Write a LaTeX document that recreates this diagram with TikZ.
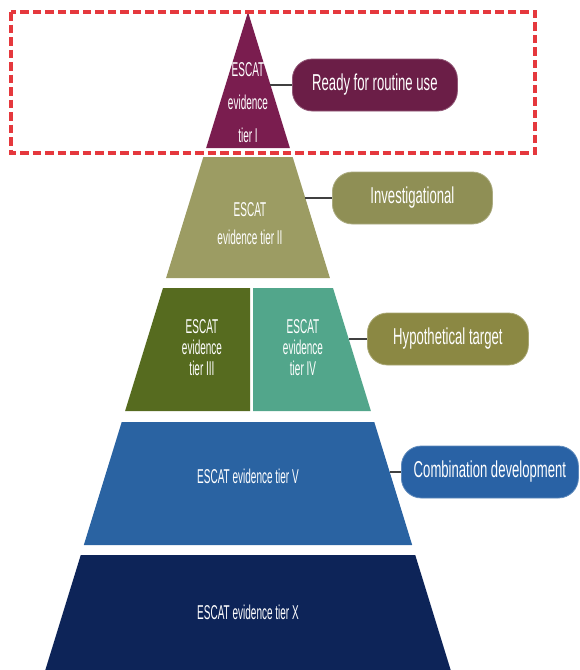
\documentclass[tikz,border=0pt]{standalone}
\usepackage{fontspec}
\setmainfont{Liberation Sans}
\newfontfamily\tierfont[FakeStretch=0.5]{Liberation Sans}
\newfontfamily\boxfont[FakeStretch=0.57]{Liberation Sans}
\definecolor{tierone}{HTML}{7A1D4F}
\definecolor{tiertwo}{HTML}{9C9C63}
\definecolor{tierthree}{HTML}{566B1F}
\definecolor{tierfour}{HTML}{52A68B}
\definecolor{tierfive}{HTML}{2A63A2}
\definecolor{tierx}{HTML}{0D2458}
\definecolor{boxone}{HTML}{6B1E47}
\definecolor{boxtwo}{HTML}{8F8F55}
\definecolor{boxthree}{HTML}{8B8843}
\definecolor{boxfive}{HTML}{2962A5}
\definecolor{dashred}{HTML}{E5383D}
% one band of the pyramid, from y #1 down to y #2
\newcommand{\tierband}[3]{%
  \fill[#3] ({248-0.308*(#1-12)},#1) -- ({248+0.308*(#1-12)},#1)
    -- ({248+0.308*(#2-12)},#2) -- ({248-0.308*(#2-12)},#2) -- cycle;}
\tikzset{
  tiertext/.style={text=white, align=center, font=\tierfont\fontsize{20}{21}\selectfont},
  levelbox/.style={fill=#1, draw=#1!75!white, line width=0.8pt, rounded corners=20pt,
    text=white, minimum height=52pt, anchor=west, font=\boxfont\fontsize{23}{25}\selectfont},
  link/.style={draw=black!75, line width=2pt},
  redframe/.style={draw=dashred, line width=3.3pt, dash pattern=on 8.5pt off 4pt}
}
\begin{document}
\begin{tikzpicture}[x=1pt,y=-1pt]
    \useasboundingbox (0,0) rectangle (580,670);
    % pyramid
    \tierband{12}{148}{tierone}
    \tierband{157}{278}{tiertwo}
    \fill[tierthree] ({248-0.308*276},288) -- (250,288) -- (250,411) -- ({248-0.308*399},411) -- cycle;
    \fill[tierfour] (253,288) -- ({248+0.308*276},288) -- ({248+0.308*399},411) -- (253,411) -- cycle;
    \tierband{422}{545}{tierfive}
    \tierband{555}{670}{tierx}
    \node[tiertext] (t1) at (248,103) {ESCAT\\[12pt]evidence\\[12pt]tier I};
    \node[tiertext] (t2) at (250,224) {ESCAT\\[7pt]evidence tier II};
    \node[tiertext] (t3) at (202,348) {ESCAT\\evidence\\tier III};
    \node[tiertext] (t4) at (303,348) {ESCAT\\evidence\\tier IV};
    \node[tiertext] (t5) at (248,476) {ESCAT evidence tier V};
    \node[tiertext] (tx) at (248,612) {ESCAT evidence tier X};
    % labels on the right
    \coordinate (e1) at ({248+0.308*(85-12)},85);
    \coordinate (e2) at ({248+0.308*(198-12)},198);
    \coordinate (e4) at ({248+0.308*(339-12)},339);
    \coordinate (e5) at ({248+0.308*(472-12)},472);
    \node[levelbox=boxone, minimum width=165pt] (routine) at (292,85) {Ready for routine use};
    \node[levelbox=boxtwo, minimum width=160pt] (invest) at (332,198) {Investigational};
    \node[levelbox=boxthree, minimum width=161pt] (hypo) at (367,339) {Hypothetical target};
    \node[levelbox=boxfive, minimum width=177pt] (combo) at (401,472) {Combination development};
    \draw[link] (e1) -- (routine);
    \draw[link] (e2) -- (invest);
    \draw[link] (e4) -- (hypo);
    \draw[link] (e5) -- (combo);
    \draw[redframe] (11,12) rectangle (535,153);
\end{tikzpicture}
\end{document}
